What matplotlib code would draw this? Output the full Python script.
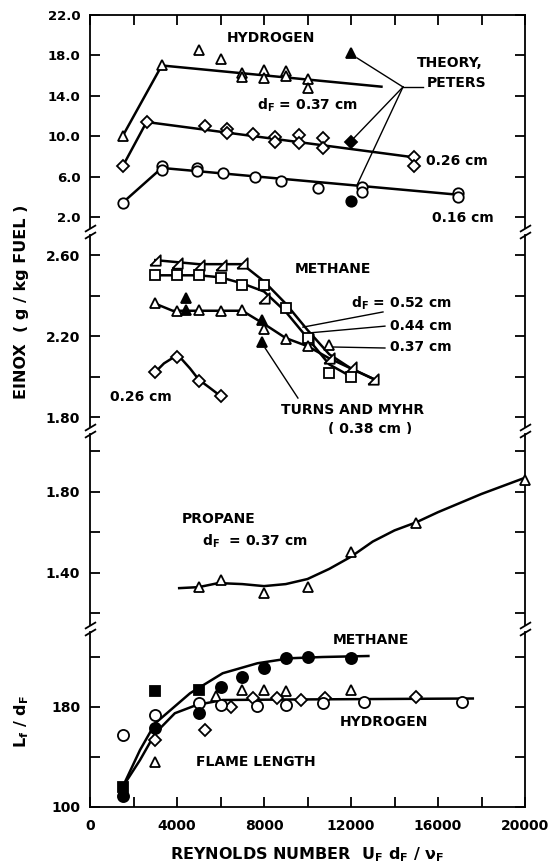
import matplotlib
matplotlib.use('Agg')
import matplotlib.pyplot as plt
from matplotlib.ticker import FixedLocator, MultipleLocator, FormatStrFormatter

plt.rcParams['font.family'] = 'DejaVu Sans'
plt.rcParams['font.weight'] = 'bold'
plt.rcParams['mathtext.fontset'] = 'custom'
plt.rcParams['mathtext.rm'] = 'DejaVu Sans:bold'
plt.rcParams['mathtext.it'] = 'DejaVu Sans:italic:bold'
plt.rcParams['mathtext.default'] = 'rm'

# ---- hydrogen EINOX (g/kg) ----
h2_37_re = [1500, 3300, 5000, 6000, 7000, 7000, 8000, 8000, 9000, 9000, 10000, 10000]
h2_37_ei = [10.0, 17.0, 18.5, 17.6, 16.3, 15.9, 16.6, 15.8, 16.45, 15.96, 15.66, 14.8]
h2_37_fit_re = [1500, 3300, 13400]
h2_37_fit = [10.0, 17.0, 14.9]

h2_26_re = [1500, 2600, 5300, 6300, 6300, 7500, 8500, 8500, 9600, 9600, 10700, 10700, 14900, 14900]
h2_26_ei = [7.0, 11.4, 11.0, 10.7, 10.3, 10.2, 9.9, 9.4, 10.1, 9.3, 9.8, 8.8, 7.9, 7.05]
h2_26_fit_re = [1500, 2600, 14900]
h2_26_fit = [7.0, 11.4, 7.9]

h2_16_re = [1500, 3300, 3300, 4900, 4900, 6100, 7600, 8800, 10500, 12500, 12500, 16900, 16900]
h2_16_ei = [3.4, 7.05, 6.65, 6.85, 6.5, 6.3, 6.0, 5.6, 4.9, 5.0, 4.5, 4.4, 4.0]
h2_16_fit_re = [1500, 3300, 16900]
h2_16_fit = [3.4, 6.85, 4.2]

# Peters theory points
peters_re = [12000, 12000, 12000]
peters_ei = [18.2, 9.4, 3.6]

# ---- methane EINOX ----
ch4_52_re = [3000, 4000, 5000, 6000, 7000, 8000, 10000, 11000, 12000, 13000]
ch4_52_ei = [2.575, 2.56, 2.55, 2.55, 2.56, 2.39, 2.185, 2.09, 2.047, 1.99]
ch4_52_fit_re = [3000, 5000, 7000, 8000, 9000, 10000, 11000, 12000, 13000]
ch4_52_fit = [2.575, 2.555, 2.555, 2.47, 2.36, 2.23, 2.11, 2.04, 1.99]

ch4_44_re = [3000, 4000, 5000, 6000, 7000, 8000, 9000, 10000, 11000, 12000]
ch4_44_ei = [2.50, 2.50, 2.50, 2.486, 2.452, 2.45, 2.338, 2.19, 2.017, 1.998]
ch4_44_fit_re = [3000, 5000, 6000, 7000, 8000, 9000, 10000, 11000, 12000]
ch4_44_fit = [2.50, 2.50, 2.49, 2.46, 2.42, 2.32, 2.19, 2.06, 2.00]

ch4_37_re = [3000, 4000, 5000, 6000, 7000, 8000, 9000, 10000, 11000]
ch4_37_ei = [2.363, 2.323, 2.33, 2.323, 2.33, 2.235, 2.185, 2.15, 2.155]
ch4_37_fit_re = [3000, 3800, 5000, 7000, 8000, 9000, 10000, 11000, 12000, 13000]
ch4_37_fit = [2.36, 2.325, 2.325, 2.325, 2.26, 2.19, 2.15, 2.09, 2.04, 1.99]

ch4_26_re = [3000, 4000, 5000, 6000]
ch4_26_ei = [2.022, 2.096, 1.978, 1.904]
ch4_26_fit_re = [3000, 3400, 3800, 4200, 4600, 5000, 5500, 6000]
ch4_26_fit = [2.022, 2.065, 2.092, 2.088, 2.04, 1.985, 1.945, 1.904]

turns_re = [4400, 4400, 7900, 7900]
turns_ei = [2.39, 2.33, 2.28, 2.17]

# ---- propane EINOX ----
c3_re = [5000, 6000, 8000, 10000, 12000, 15000, 20000]
c3_ei = [1.33, 1.365, 1.30, 1.33, 1.504, 1.647, 1.86]
c3_fit_re = [4100, 5000, 5900, 7000, 8000, 9000, 10000, 11000, 12000, 13000,
             14000, 15000, 16000, 17000, 18000, 19000, 20000]
c3_fit = [1.325, 1.33, 1.35, 1.345, 1.335, 1.345, 1.37, 1.42, 1.48, 1.555,
          1.61, 1.65, 1.70, 1.745, 1.79, 1.83, 1.87]

# ---- flame length Lf/dF ----
fl_ch4_re = [1500, 3000, 5000, 6000, 7000, 8000, 9000, 10000, 12000]
fl_ch4 = [109, 163, 175, 196, 204, 211, 219, 220, 219]
fl_sq_re = [1500, 3000, 5000]
fl_sq = [116, 193, 193.6]
fl_h2o_re = [1500, 3000, 5000, 6000, 7700, 9000, 10700, 12600, 17100]
fl_h2o = [157.6, 173.6, 183, 182, 181, 182, 183, 184, 184]
fl_h2d_re = [3000, 5300, 6500, 7500, 8600, 9700, 10800, 15000]
fl_h2d = [154, 161.6, 180, 187, 187, 185.6, 187, 188]
fl_tri_re = [3000, 5800, 7000, 8000, 9000, 12000]
fl_tri = [136, 188.8, 193.6, 193.6, 193, 194]
fl_ch4_fit_re = [1500, 2300, 3000, 4600, 6100, 7700, 9200, 10700, 12800]
fl_ch4_fit = [116, 145.6, 167, 191, 207, 215, 219, 220, 220.8]
fl_h2_fit_re = [1500, 2300, 3000, 3900, 4900, 6100, 9200, 17600]
fl_h2_fit = [116, 137.6, 159, 175, 181.6, 185.6, 186, 186.8]

W, H = 559, 867
fig = plt.figure(figsize=(W / 100, H / 100), dpi=100)

def box(top, bottom):
    return [90 / W, 1 - bottom / H, 435 / W, (bottom - top) / H]

axH = fig.add_axes(box(15, 228))
axM = fig.add_axes(box(235, 427))
axP = fig.add_axes(box(434, 625))
axF = fig.add_axes(box(632, 807))
axes = [axH, axM, axP, axF]

LW = 1.8
tri52 = [(-1, -1), (1, -1), (1, 1), (-1, -1)]

def line(ax, x, y):
    ax.plot(x, y, color='k', lw=LW, zorder=2)

def pts(ax, x, y, m, ms=7.5, fill='white'):
    ax.plot(x, y, ls='none', marker=m, ms=ms, mfc=fill, mec='k', mew=1.3,
            zorder=3, clip_on=False)

# hydrogen
line(axH, h2_37_fit_re, h2_37_fit)
line(axH, h2_26_fit_re, h2_26_fit)
line(axH, h2_16_fit_re, h2_16_fit)
pts(axH, h2_37_re, h2_37_ei, '^')
pts(axH, h2_26_re, h2_26_ei, 'D', ms=6)
pts(axH, h2_16_re, h2_16_ei, 'o')
pts(axH, peters_re[:1], peters_ei[:1], '^', fill='k')
pts(axH, peters_re[1:2], peters_ei[1:2], 'D', ms=6, fill='k')
pts(axH, peters_re[2:], peters_ei[2:], 'o', fill='k')

# methane
line(axM, ch4_52_fit_re, ch4_52_fit)
line(axM, ch4_44_fit_re, ch4_44_fit)
line(axM, ch4_37_fit_re, ch4_37_fit)
line(axM, ch4_26_fit_re, ch4_26_fit)
pts(axM, ch4_52_re, ch4_52_ei, tri52, ms=7.5)
pts(axM, ch4_44_re, ch4_44_ei, 's', ms=6.5)
pts(axM, ch4_37_re, ch4_37_ei, '^')
pts(axM, ch4_26_re, ch4_26_ei, 'D', ms=6)
pts(axM, turns_re, turns_ei, '^', fill='k')

# propane
line(axP, c3_fit_re, c3_fit)
pts(axP, c3_re, c3_ei, '^')

# flame length
line(axF, fl_ch4_fit_re, fl_ch4_fit)
line(axF, fl_h2_fit_re, fl_h2_fit)
pts(axF, fl_tri_re, fl_tri, '^')
pts(axF, fl_h2d_re, fl_h2d, 'D', ms=6)
pts(axF, fl_h2o_re, fl_h2o, 'o', ms=8)
pts(axF, fl_sq_re, fl_sq, 's', ms=6.5, fill='k')
pts(axF, fl_ch4_re, fl_ch4, 'o', ms=8, fill='k')

axH.set_ylim(0.9, 22.0)
axM.set_ylim(1.751, 2.699)
axP.set_ylim(1.143, 2.086)
axF.set_ylim(100, 240)

axH.yaxis.set_major_locator(FixedLocator([2, 6, 10, 14, 18, 22]))
axH.yaxis.set_major_formatter(FormatStrFormatter('%.1f'))
axM.yaxis.set_major_locator(FixedLocator([1.8, 2.2, 2.6]))
axM.yaxis.set_minor_locator(FixedLocator([2.0, 2.4]))
axM.yaxis.set_major_formatter(FormatStrFormatter('%.2f'))
axP.yaxis.set_major_locator(FixedLocator([1.4, 1.8]))
axP.yaxis.set_minor_locator(FixedLocator([1.2, 1.6, 2.0]))
axP.yaxis.set_major_formatter(FormatStrFormatter('%.2f'))
axF.yaxis.set_major_locator(FixedLocator([100, 180]))
axF.yaxis.set_minor_locator(FixedLocator([140, 220]))

for ax in axes:
    ax.set_xlim(0, 20000)
    ax.xaxis.set_major_locator(MultipleLocator(4000))
    ax.xaxis.set_minor_locator(MultipleLocator(2000))
    for s in ax.spines.values():
        s.set_linewidth(1.3)
    ax.tick_params(which='both', direction='in', right=True, width=1.3,
                   labelsize=10, pad=7, top=False, bottom=False, labelbottom=False)
    ax.tick_params(which='major', length=7)
    ax.tick_params(which='minor', length=7)

axH.tick_params(axis='x', which='both', top=True)
axF.tick_params(axis='x', which='both', bottom=True, labelbottom=True, pad=9)
axH.tick_params(axis='y', labelsize=9.5)

# broken-axis marks between the panels
brk = dict(marker=[(-1, -0.6), (1, 0.6)], markersize=8, linestyle='none',
           color='k', mec='k', mew=1.3, clip_on=False)
for upper, lower in zip(axes[:-1], axes[1:]):
    upper.spines['bottom'].set_visible(False)
    lower.spines['top'].set_visible(False)
    upper.plot([0, 1], [0, 0], transform=upper.transAxes, **brk)
    lower.plot([0, 1], [1, 1], transform=lower.transAxes, **brk)

fs = 10
# hydrogen labels
axH.text(8320, 19.7, 'HYDROGEN', ha='center', va='center', fontsize=fs)
axH.text(7680, 13.1, r'd$_F$ = 0.37 cm', ha='left', va='center', fontsize=fs)
axH.text(15030, 17.25, 'THEORY,', ha='left', va='center', fontsize=fs)
axH.text(15490, 15.27, 'PETERS', ha='left', va='center', fontsize=fs)
axH.text(15450, 7.54, '0.26 cm', ha='left', va='center', fontsize=fs)
axH.text(15720, 1.9, '0.16 cm', ha='left', va='center', fontsize=fs)
hub = (14390, 14.87)
axH.plot([hub[0], 15310], [hub[1], hub[1]], color='k', lw=1)
for ex, ey in [(12280, 17.74), (12050, 9.62), (12280, 5.17)]:
    axH.plot([hub[0], ex], [hub[1], ey], color='k', lw=1)

# methane labels
axM.text(11170, 2.531, 'METHANE', ha='center', va='center', fontsize=fs)
axM.text(16640, 2.363, r'd$_F$ = 0.52 cm', ha='right', va='center', fontsize=fs)
axM.text(16640, 2.249, '0.44 cm', ha='right', va='center', fontsize=fs)
axM.text(16640, 2.146, '0.37 cm', ha='right', va='center', fontsize=fs)
axM.plot([13470, 9790], [2.319, 2.244], color='k', lw=1)
axM.plot([13560, 10020], [2.249, 2.215], color='k', lw=1)
axM.plot([13560, 11170], [2.141, 2.146], color='k', lw=1)
axM.plot([8050, 9560], [2.141, 1.894], color='k', lw=1)
axM.text(12070, 1.835, 'TURNS AND MYHR', ha='center', va='center', fontsize=fs)
axM.text(12870, 1.741, '( 0.38 cm )', ha='center', va='center', fontsize=fs)
axM.text(920, 1.899, '0.26 cm', ha='left', va='center', fontsize=fs)

# propane labels
axP.text(4230, 1.667, 'PROPANE', ha='left', va='center', fontsize=fs)
axP.text(5150, 1.558, r'd$_F$  = 0.37 cm', ha='left', va='center', fontsize=fs)

# flame length labels
axF.text(11170, 233.6, 'METHANE', ha='left', va='center', fontsize=fs)
axF.text(11490, 168, 'HYDROGEN', ha='left', va='center', fontsize=fs)
axF.text(4870, 136, 'FLAME LENGTH', ha='left', va='center', fontsize=fs)

fig.text(22 / W, 1 - 302 / H, 'EINOX  ( g / kg FUEL )', rotation=90,
         ha='center', va='center', fontsize=11.5)
fig.text(22 / W, 1 - 722 / H, r'L$_f$ / d$_F$', rotation=90,
         ha='center', va='center', fontsize=11.5)
fig.text(307 / W, 1 - 855 / H, r'REYNOLDS NUMBER  U$_F$ d$_F$ / $\nu_F$',
         ha='center', va='center', fontsize=11.5)

fig.savefig('out.png', dpi=100)
